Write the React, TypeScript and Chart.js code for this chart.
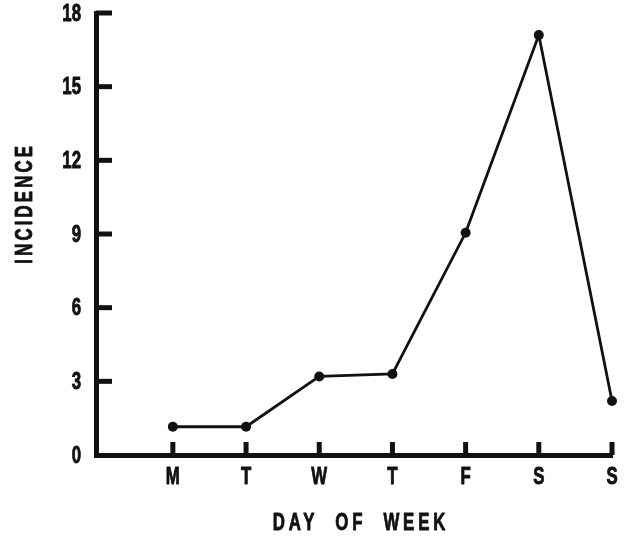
import React, { useEffect, useRef } from "react";
import { Chart, registerables } from "chart.js";

Chart.register(...registerables);

const days = ["M", "T", "W", "T", "F", "S", "S"];
const dayPositions = [1, 2, 3, 4, 5, 6, 7];
const incidence = [1.15, 1.15, 3.2, 3.3, 9.05, 17.1, 2.2];
const yTicks = [0, 3, 6, 9, 12, 15, 18];
const xTitle = "DAY  OF  WEEK";
const yTitle = "INCIDENCE";

const FONT = "bold 24px 'Liberation Sans', Arial, sans-serif";
const SQUEEZE = 0.7;

function drawNarrow(ctx: CanvasRenderingContext2D, text: string, x: number, y: number, align: CanvasTextAlign, spacing = 0, rotate = 0) {
  ctx.save();
  ctx.translate(x, y);
  if (rotate) ctx.rotate(rotate);
  ctx.scale(SQUEEZE, 1);
  ctx.font = FONT;
  (ctx as any).letterSpacing = `${spacing}px`;
  ctx.textAlign = align;
  ctx.textBaseline = "middle";
  ctx.lineWidth = 0.9;
  ctx.lineJoin = "round";
  ctx.fillText(text, 0, 0);
  ctx.strokeText(text, 0, 0);
  ctx.restore();
}

const axisDecor = {
  id: "axisDecor",
  afterDraw(chart: any) {
    const ctx = chart.ctx as CanvasRenderingContext2D;
    const xs = chart.scales.x;
    const ys = chart.scales.y;
    const area = chart.chartArea;
    ctx.save();
    ctx.strokeStyle = "#111";
    ctx.fillStyle = "#111";
    ctx.lineWidth = 5;
    ctx.lineCap = "butt";
    yTicks.forEach((v) => {
      const py = ys.getPixelForValue(v);
      if (v !== 0) {
        ctx.beginPath();
        ctx.moveTo(area.left, py);
        ctx.lineTo(area.left + 16, py);
        ctx.stroke();
      }
      drawNarrow(ctx, String(v), area.left - 15, py + 1, "right");
    });
    dayPositions.forEach((p, i) => {
      const px = xs.getPixelForValue(p);
      ctx.lineWidth = 5;
      ctx.beginPath();
      ctx.moveTo(px, area.bottom);
      ctx.lineTo(px, area.bottom - 13);
      ctx.stroke();
      drawNarrow(ctx, days[i], px, area.bottom + 22, "center");
    });
    drawNarrow(ctx, xTitle, (area.left + area.right) / 2 + 7, area.bottom + 68, "center", 5.5);
    drawNarrow(ctx, yTitle, 25, ys.getPixelForValue(10.25), "center", 4.5, -Math.PI / 2);
    ctx.restore();
  },
};

export default function App() {
  const ref = useRef<HTMLCanvasElement | null>(null);
  useEffect(() => {
    if (!ref.current) return;
    const chart = new Chart(ref.current, {
      type: "line",
      data: {
        datasets: [
          {
            data: dayPositions.map((p, i) => ({ x: p, y: incidence[i] })),
            borderColor: "#111",
            backgroundColor: "#111",
            borderWidth: 2.8,
            pointRadius: 5,
            pointBackgroundColor: "#111",
            pointBorderWidth: 0,
            tension: 0,
            clip: false,
          },
        ],
      },
      options: {
        responsive: false,
        animation: false,
        events: [],
        layout: { padding: { left: 0, top: 13, right: 17, bottom: 0 } },
        plugins: { legend: { display: false }, tooltip: { enabled: false } },
        scales: {
          x: {
            type: "linear",
            min: -0.05,
            max: 7,
            grid: { display: false, drawTicks: false },
            border: { display: true, color: "#111", width: 5 },
            ticks: { display: false },
            afterFit: (scale: any) => {
              scale.height = 82;
              scale.paddingLeft = 0;
              scale.paddingRight = 0;
            },
          },
          y: {
            min: 0,
            max: 18,
            grid: { display: false, drawTicks: false },
            border: { display: true, color: "#111", width: 5 },
            ticks: { display: false },
            afterFit: (scale: any) => {
              scale.width = 96;
              scale.paddingTop = 0;
              scale.paddingBottom = 0;
            },
          },
        },
      },
      plugins: [axisDecor],
    });
    return () => chart.destroy();
  }, []);
  return (
    <div style={{ position: "fixed", left: 0, top: 0, width: 629, height: 537, background: "#fff" }}>
      <canvas ref={ref} width={629} height={537} />
    </div>
  );
}
